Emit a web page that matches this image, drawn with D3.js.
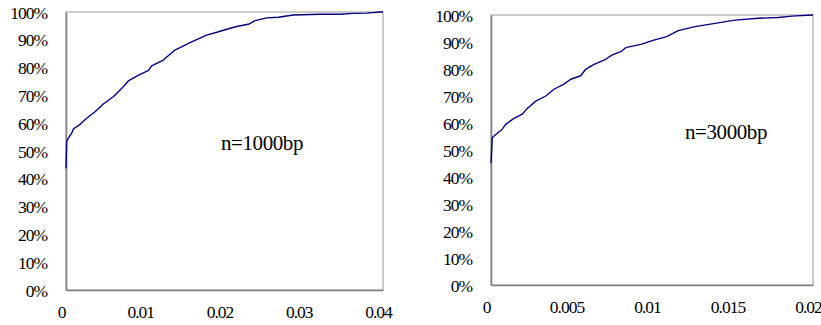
<!DOCTYPE html>
<html>
<head>
<meta charset="utf-8">
<script src="https://cdn.jsdelivr.net/npm/d3@7"></script>
<style>
  html, body { margin: 0; padding: 0; background: #fff; }
  svg { display: block; }
</style>
</head>
<body>
<svg id="chart" width="821" height="325"></svg>
<script>
// ---- data ----
const yTicks = [0, 10, 20, 30, 40, 50, 60, 70, 80, 90, 100];

// Panel 1: n=1000bp
const label1 = "n=1000bp";
const xTicks1 = [0, 0.01, 0.02, 0.03, 0.04];
const xs1 = [0, 0.00009, 0.00029, 0.00072, 0.00092, 0.00177, 0.00261, 0.00366, 0.00471, 0.00597,
             0.0066, 0.00723, 0.00786, 0.00934, 0.01038, 0.01081, 0.01228, 0.01375, 0.01565, 0.01775,
             0.01902, 0.02028, 0.02154, 0.02313, 0.02385, 0.02533, 0.02679, 0.02868, 0.03205, 0.03457,
             0.03625, 0.03794, 0.03962, 0.04];
const ys1 = [43.8, 53.4, 54.6, 56.4, 57.9, 59.6, 61.8, 64.1, 66.9, 69.5,
             71.3, 73.1, 75.2, 77.6, 78.9, 80.6, 82.7, 86.3, 89.0, 91.7,
             92.7, 93.8, 94.8, 95.7, 96.9, 97.9, 98.1, 98.9, 99.2, 99.2,
             99.5, 99.6, 100, 100];

// Panel 2: n=3000bp
const label2 = "n=3000bp";
const xTicks2 = [0, 0.005, 0.01, 0.015, 0.02];
const xs2 = [0, 0.00008, 0.00039, 0.0007, 0.00091, 0.00143, 0.00194, 0.00225, 0.00278, 0.0034,
             0.00391, 0.00453, 0.00495, 0.00557, 0.00588, 0.0064, 0.00712, 0.00753, 0.00806, 0.00837,
             0.0093, 0.01012, 0.01091, 0.01163, 0.01267, 0.01391, 0.01516, 0.0166, 0.01785, 0.01868,
             0.01992, 0.02];
const ys2 = [45.1, 54.6, 56.2, 57.7, 59.5, 61.7, 63.3, 65.4, 68.1, 70.0,
             72.5, 74.4, 76.2, 77.5, 79.9, 81.7, 83.6, 85.2, 86.4, 87.9,
             89.1, 90.7, 92.0, 94.2, 95.7, 96.9, 98.1, 98.8, 99.1, 99.6,
             100, 100];

// ---- drawing ----
const SERIF = "'Liberation Serif', 'Times New Roman', Times, serif";
const svg = d3.select("#chart");

function styleLabel(sel) {
  sel.style("font-family", SERIF)
     .style("font-size", "17.5px")
     .style("letter-spacing", "-1px")
     .style("fill", "#000");
}

function panel(cfg) {
  const g = svg.append("g");
  const x = d3.scaleLinear().domain([0, cfg.xMax]).range([cfg.left, cfg.right]);
  const y = d3.scaleLinear().domain([0, 100]).range([cfg.bottom, cfg.top]);

  // plot frame
  g.append("rect")
    .attr("x", cfg.left).attr("y", cfg.top)
    .attr("width", cfg.right - cfg.left).attr("height", cfg.bottom - cfg.top)
    .attr("fill", "none").attr("stroke", "#9a9a9a").attr("stroke-width", 1);

  // y axis
  const ya = g.append("g").attr("transform", `translate(${cfg.left},0)`)
    .call(d3.axisLeft(y).tickValues(yTicks).tickSize(0).tickPadding(19).tickFormat(d => d + "%"));
  ya.attr("font-family", null).attr("font-size", null);
  ya.select(".domain").attr("stroke", "#808080").attr("stroke-width", 1.6);
  ya.selectAll("text").call(styleLabel).attr("dy", "0.35em");

  // x axis
  const xa = g.append("g").attr("transform", `translate(0,${cfg.bottom})`)
    .call(d3.axisBottom(x).tickValues(cfg.xTicks).tickSize(0).tickPadding(16).tickFormat(d => String(d)));
  xa.attr("font-family", null).attr("font-size", null);
  xa.select(".domain").attr("stroke", "#808080").attr("stroke-width", 1.6);
  xa.selectAll("text").call(styleLabel).attr("dx", -5).attr("dy", "0.71em");

  // curve
  const pts = cfg.xs.map((v, i) => [v, cfg.ys[i]]);
  g.append("path")
    .datum(pts)
    .attr("fill", "none")
    .attr("stroke", "#000080")
    .attr("stroke-width", 1.4)
    .attr("stroke-linejoin", "round")
    .attr("d", d3.line().x(d => x(d[0])).y(d => y(d[1])));

  // annotation
  g.append("text")
    .attr("x", cfg.annX).attr("y", cfg.annY)
    .attr("text-anchor", "middle")
    .style("font-family", SERIF)
    .style("font-size", "21px")
    .style("letter-spacing", "-0.4px")
    .style("fill", "#000")
    .text(cfg.label);
}

panel({ left: 66, right: 383, top: 12, bottom: 290, xMax: 0.04, xTicks: xTicks1,
        xs: xs1, ys: ys1, label: label1, annX: 262, annY: 150 });
panel({ left: 491, right: 813, top: 15, bottom: 285, xMax: 0.02, xTicks: xTicks2,
        xs: xs2, ys: ys2, label: label2, annX: 726, annY: 139 });
</script>
</body>
</html>
